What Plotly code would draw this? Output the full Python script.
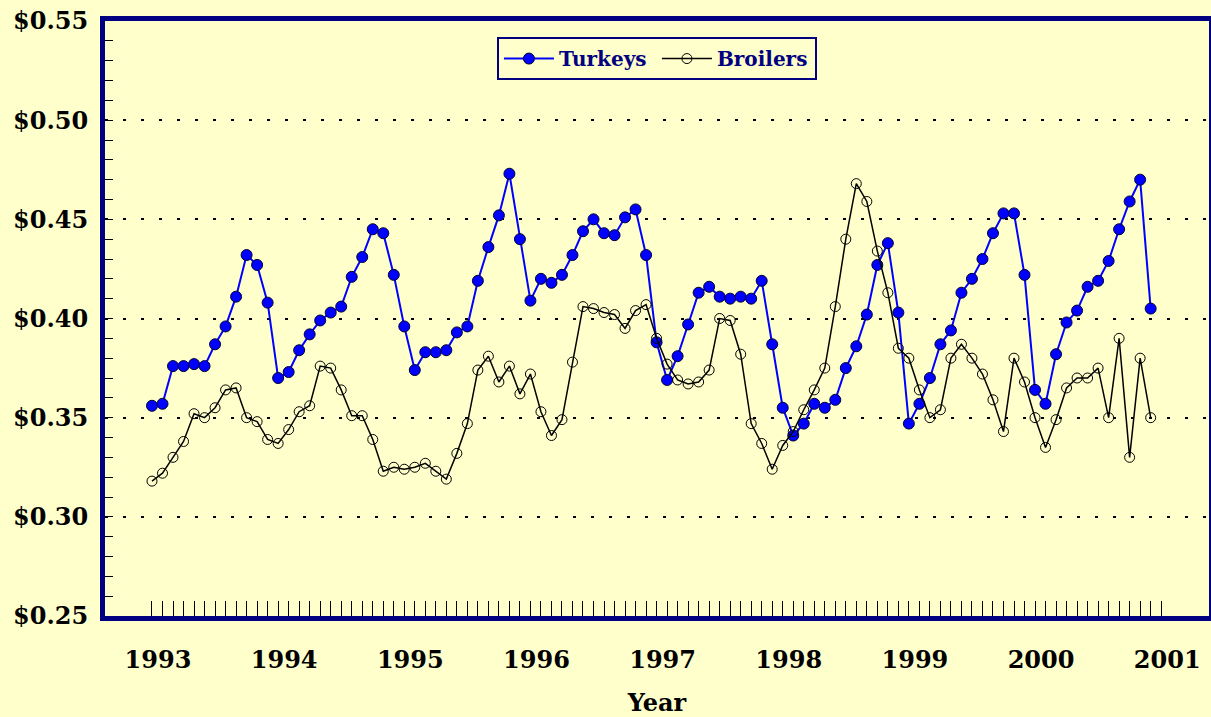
import plotly.graph_objects as go

# monthly prices, Jan 1993 - Dec 2000
turkeys = [0.356, 0.357, 0.376, 0.376, 0.377, 0.376, 0.387, 0.396, 0.411, 0.432, 0.427, 0.408,
           0.370, 0.373, 0.384, 0.392, 0.399, 0.403, 0.406, 0.421, 0.431, 0.445, 0.443, 0.422,
           0.396, 0.374, 0.383, 0.383, 0.384, 0.393, 0.396, 0.419, 0.436, 0.452, 0.473, 0.440,
           0.409, 0.420, 0.418, 0.422, 0.432, 0.444, 0.450, 0.443, 0.442, 0.451, 0.455, 0.432,
           0.388, 0.369, 0.381, 0.397, 0.413, 0.416, 0.411, 0.410, 0.411, 0.410, 0.419, 0.387,
           0.355, 0.341, 0.347, 0.357, 0.355, 0.359, 0.375, 0.386, 0.402, 0.427, 0.438, 0.403,
           0.347, 0.357, 0.370, 0.387, 0.394, 0.413, 0.420, 0.430, 0.443, 0.453, 0.453, 0.422,
           0.364, 0.357, 0.382, 0.398, 0.404, 0.416, 0.419, 0.429, 0.445, 0.459, 0.470, 0.405]
broilers = [0.318, 0.322, 0.330, 0.338, 0.352, 0.350, 0.355, 0.364, 0.365, 0.350, 0.348, 0.339,
            0.337, 0.344, 0.353, 0.356, 0.376, 0.375, 0.364, 0.351, 0.351, 0.339, 0.323, 0.325,
            0.324, 0.325, 0.327, 0.323, 0.319, 0.332, 0.347, 0.374, 0.381, 0.368, 0.376, 0.362,
            0.372, 0.353, 0.341, 0.349, 0.378, 0.406, 0.405, 0.403, 0.402, 0.395, 0.404, 0.407,
            0.390, 0.377, 0.369, 0.367, 0.368, 0.374, 0.400, 0.399, 0.382, 0.347, 0.337, 0.324,
            0.336, 0.343, 0.354, 0.364, 0.375, 0.406, 0.440, 0.468, 0.459, 0.434, 0.413, 0.385,
            0.380, 0.364, 0.350, 0.354, 0.380, 0.387, 0.380, 0.372, 0.359, 0.343, 0.380, 0.368,
            0.350, 0.335, 0.349, 0.365, 0.370, 0.370, 0.375, 0.350, 0.390, 0.330, 0.380, 0.350]
months = list(range(len(turkeys)))

year_labels = ["1993", "1994", "1995", "1996", "1997", "1998", "1999", "2000", "2001"]
year_pos = [12 * i for i in range(len(year_labels))]
y_vals = [0.25, 0.30, 0.35, 0.40, 0.45, 0.50, 0.55]
y_labels = ["$%.2f" % v for v in y_vals]

BG = "#FFFFCC"
NAVY = "#000080"
FONT = "DejaVu Serif"

fig = go.Figure()
fig.add_trace(go.Scatter(
    x=months, y=turkeys, mode="lines+markers", name="Turkeys",
    line=dict(color="#0000FF", width=2),
    marker=dict(symbol="circle", size=11, color="#0000FF", line=dict(color="#000033", width=1)),
))
fig.add_trace(go.Scatter(
    x=months, y=broilers, mode="lines+markers", name="Broilers",
    line=dict(color="black", width=1.5),
    marker=dict(symbol="circle-open", size=10, color="black", line=dict(width=1)),
))

fig.update_layout(
    width=1211, height=717,
    margin=dict(l=105, r=2, t=21, b=101),
    paper_bgcolor=BG, plot_bgcolor=BG,
    font=dict(family=FONT, color="black"),
    showlegend=True,
    legend=dict(
        orientation="h", x=0.355, y=0.973, xanchor="left", yanchor="top",
        bgcolor=BG, bordercolor=NAVY, borderwidth=2, entrywidth=93, itemwidth=50,
        font=dict(family=FONT, size=20, color=NAVY, weight="bold"),
    ),
)
fig.update_xaxes(
    range=[-4.47, 100.55], tickmode="array", tickvals=year_pos, ticktext=year_labels,
    ticks="inside", ticklen=15, tickcolor="black", tickwidth=1,
    ticklabelshift=6, ticklabelstandoff=18, automargin=False,
    tickfont=dict(family=FONT, size=24, weight="bold"),
    minor=dict(tickmode="array", tickvals=list(range(97)), ticks="inside", ticklen=15,
               tickcolor="black", tickwidth=1, showgrid=False),
    showgrid=False, zeroline=False,
    showline=True, linecolor=NAVY, linewidth=5, mirror=True,
    title=dict(text="<b>Year</b>", font=dict(family=FONT, size=24), standoff=26),
)
fig.update_yaxes(
    range=[0.25, 0.55], tickmode="array", tickvals=y_vals, ticktext=y_labels,
    ticks="inside", ticklen=8, tickcolor="black", tickwidth=1,
    ticklabelstandoff=7, automargin=False,
    tickfont=dict(family=FONT, size=24, weight="bold"),
    minor=dict(tick0=0.25, dtick=0.01, ticks="inside", ticklen=8, tickcolor="black",
               tickwidth=1, showgrid=False),
    showgrid=True, gridcolor="black", gridwidth=1.5, griddash="3px,15px",
    zeroline=False,
    showline=True, linecolor=NAVY, linewidth=5, mirror=True,
)

# drop the page's default body margin so the figure sits at the window's corner
fig.write_html("out.html", config={"displayModeBar": False},
               post_script="document.body.style.margin='0';"
               "document.body.style.background='#FFFFCC';")
